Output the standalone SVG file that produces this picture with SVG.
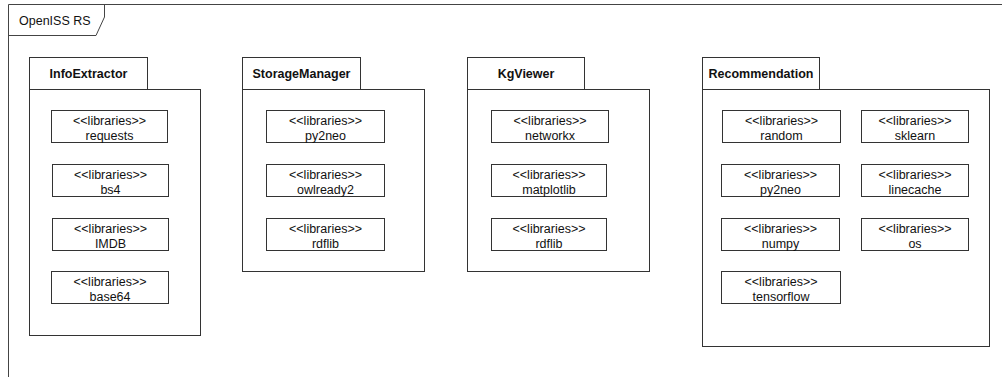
<svg xmlns="http://www.w3.org/2000/svg" width="1002" height="377" viewBox="0 0 1002 377">
<style>
.ln{fill:#fff;stroke:#333;stroke-width:1}
.fr{fill:none;stroke:#444;stroke-width:1}
text{font-family:"Liberation Sans",Arial,Helvetica,sans-serif;font-size:12.5px;fill:#111;text-anchor:middle}
.t{font-weight:bold}
</style>
<rect width="1002" height="377" fill="#fff"/>
<g id="frame">
<path class="fr" d="M8.5,377 V4.5 H1002"/>
<path class="fr" d="M8.5,35.5 H96 L104.5,17 V4.5"/>
<text x="19" y="25" style="text-anchor:start">OpenISS RS</text>
</g>
<g id="InfoExtractor">
<rect class="ln" x="29.5" y="57.5" width="118" height="32"/>
<rect class="ln" x="29.5" y="89.5" width="171" height="246"/>
<text class="t" x="88.5" y="78">InfoExtractor</text>
<g id="ie-requests"><rect class="ln" x="51.5" y="110.5" width="116" height="32"/><text x="109.5" y="124.5">&lt;&lt;libraries&gt;&gt;</text><text x="109.5" y="139.5">requests</text></g>
<g id="ie-bs4"><rect class="ln" x="52.5" y="164.5" width="116" height="32"/><text x="110.5" y="178.5">&lt;&lt;libraries&gt;&gt;</text><text x="110.5" y="193.5">bs4</text></g>
<g id="ie-imdb"><rect class="ln" x="52.5" y="218.5" width="116" height="32"/><text x="110.5" y="232.5">&lt;&lt;libraries&gt;&gt;</text><text x="110.5" y="247.5">IMDB</text></g>
<g id="ie-base64"><rect class="ln" x="51.5" y="271.5" width="117" height="32"/><text x="110" y="285.5">&lt;&lt;libraries&gt;&gt;</text><text x="110" y="300.5">base64</text></g>
</g>
<g id="StorageManager">
<rect class="ln" x="242.5" y="57.5" width="118" height="32"/>
<rect class="ln" x="242.5" y="89.5" width="182" height="182"/>
<text class="t" x="301.5" y="78">StorageManager</text>
<g id="sm-py2neo"><rect class="ln" x="266.5" y="110.5" width="118" height="32"/><text x="325.5" y="124.5">&lt;&lt;libraries&gt;&gt;</text><text x="325.5" y="139.5">py2neo</text></g>
<g id="sm-owlready2"><rect class="ln" x="266.5" y="164.5" width="118" height="32"/><text x="325.5" y="178.5">&lt;&lt;libraries&gt;&gt;</text><text x="325.5" y="193.5">owlready2</text></g>
<g id="sm-rdflib"><rect class="ln" x="266.5" y="218.5" width="118" height="32"/><text x="325.5" y="232.5">&lt;&lt;libraries&gt;&gt;</text><text x="325.5" y="247.5">rdflib</text></g>
</g>
<g id="KgViewer">
<rect class="ln" x="467.5" y="57.5" width="117" height="32"/>
<rect class="ln" x="467.5" y="89.5" width="182" height="182"/>
<text class="t" x="526" y="78">KgViewer</text>
<g id="kg-networkx"><rect class="ln" x="491.5" y="110.5" width="117" height="32"/><text x="550" y="124.5">&lt;&lt;libraries&gt;&gt;</text><text x="550" y="139.5">networkx</text></g>
<g id="kg-matplotlib"><rect class="ln" x="491.5" y="164.5" width="115" height="32"/><text x="549" y="178.5">&lt;&lt;libraries&gt;&gt;</text><text x="549" y="193.5">matplotlib</text></g>
<g id="kg-rdflib"><rect class="ln" x="491.5" y="218.5" width="115" height="32"/><text x="549" y="232.5">&lt;&lt;libraries&gt;&gt;</text><text x="549" y="247.5">rdflib</text></g>
</g>
<g id="Recommendation">
<rect class="ln" x="702.5" y="57.5" width="117" height="32"/>
<rect class="ln" x="702.5" y="89.5" width="287" height="257"/>
<text class="t" x="761" y="78">Recommendation</text>
<g id="rc-random"><rect class="ln" x="722.5" y="110.5" width="118" height="32"/><text x="781.5" y="124.5">&lt;&lt;libraries&gt;&gt;</text><text x="781.5" y="139.5">random</text></g>
<g id="rc-py2neo"><rect class="ln" x="721.5" y="164.5" width="118" height="32"/><text x="780.5" y="178.5">&lt;&lt;libraries&gt;&gt;</text><text x="780.5" y="193.5">py2neo</text></g>
<g id="rc-numpy"><rect class="ln" x="721.5" y="218.5" width="118" height="32"/><text x="780.5" y="232.5">&lt;&lt;libraries&gt;&gt;</text><text x="780.5" y="247.5">numpy</text></g>
<g id="rc-tensorflow"><rect class="ln" x="721.5" y="271.5" width="119" height="32"/><text x="781" y="285.5">&lt;&lt;libraries&gt;&gt;</text><text x="781" y="300.5">tensorflow</text></g>
<g id="rc-sklearn"><rect class="ln" x="861.5" y="110.5" width="107" height="32"/><text x="915" y="124.5">&lt;&lt;libraries&gt;&gt;</text><text x="915" y="139.5">sklearn</text></g>
<g id="rc-linecache"><rect class="ln" x="861.5" y="164.5" width="107" height="32"/><text x="915" y="178.5">&lt;&lt;libraries&gt;&gt;</text><text x="915" y="193.5">linecache</text></g>
<g id="rc-os"><rect class="ln" x="861.5" y="218.5" width="107" height="32"/><text x="915" y="232.5">&lt;&lt;libraries&gt;&gt;</text><text x="915" y="247.5">os</text></g>
</g>
<g id="connectors"/>
</svg>
